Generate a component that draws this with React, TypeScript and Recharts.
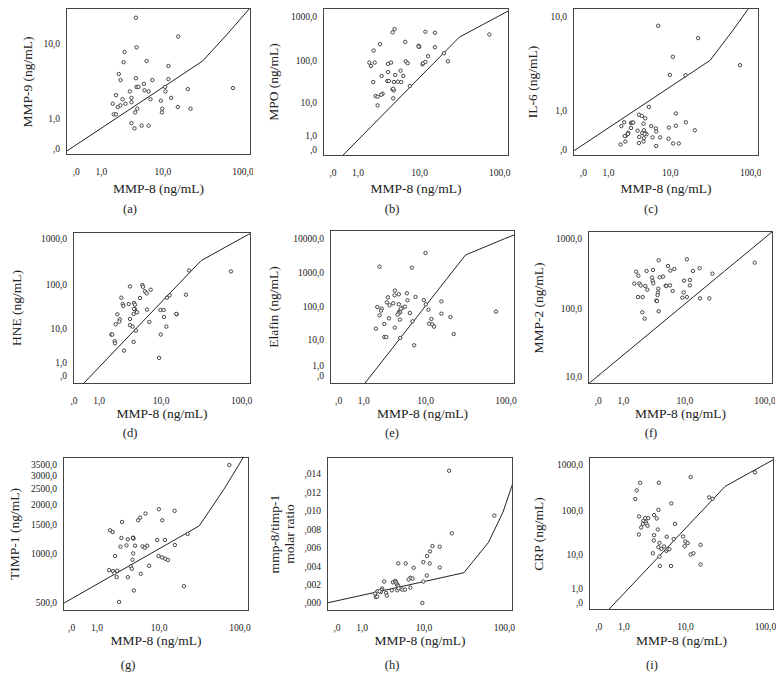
import React from 'react';
import { ScatterChart, Scatter, XAxis, YAxis } from 'recharts';

// MMP-8 (x) vs marker (y), values in ng/mL (ratio unitless)
const mmp9 = [
  [4.2, 18.8], [15.8, 11.9], [2.8, 8.1], [4.3, 9.1], [2.7, 6.2], [6.0, 6.4], [11.8, 5.6], [2.24, 4.5],
  [2.4, 3.8], [4.2, 4.0], [7.2, 3.8], [5.5, 3.4], [11.8, 3.9], [4.4, 3.1], [4.3, 3.1], [4.6, 3.1],
  [3.4, 2.7], [5.6, 2.8], [6.4, 2.7], [10.7, 3.1], [10.8, 2.7], [20.9, 2.9], [75.5, 3.0], [2.0, 2.4],
  [2.6, 2.1], [3.6, 2.2], [1.74, 1.8], [2.15, 1.6], [2.4, 1.7], [2.9, 1.8], [3.6, 1.9], [6.8, 2.1],
  [9.4, 2.0], [12.8, 2.2], [15.6, 1.6], [22.6, 1.5], [4.4, 1.5], [4.1, 1.3], [9.8, 1.5], [9.7, 1.3],
  [1.82, 1.2], [2.0, 1.2], [3.6, 0.8], [4.0, 0.6], [5.1, 0.7], [6.4, 0.7],
];
const mpo = [
  [4.5, 512], [4.2, 430], [11.9, 446], [15.8, 423], [2.67, 233], [6.4, 263], [9.7, 214], [9.9, 203],
  [9.7, 206], [15.8, 199], [2.08, 167], [12.9, 124], [20.6, 145], [1.73, 89], [1.86, 74.5], [2.17, 89],
  [3.6, 83], [4.0, 89], [6.5, 95], [6.9, 86], [10.9, 81], [11.1, 86], [11.9, 92], [23.1, 95],
  [74.8, 387], [3.6, 54], [2.85, 44], [4.6, 46], [5.5, 58], [6.0, 44], [2.05, 31.7], [3.5, 33.5],
  [3.7, 33.5], [4.4, 31.7], [5.0, 32.3], [5.6, 31.7], [7.4, 25.6], [4.2, 21.3], [4.4, 20.2], [4.3, 22.1],
  [2.95, 16.8], [2.8, 15.9], [2.26, 14.8], [2.44, 14.2], [4.3, 13.0], [2.44, 8.7],
];
const il6 = [
  [6.87, 8.35], [22.7, 6.48], [10.8, 4.33], [9.86, 2.84], [15.7, 2.82], [74.2, 3.58], [5.09, 1.15],
  [3.63, 0.87], [4.02, 0.83], [11.8, 0.91], [4.51, 0.75], [2.09, 0.63], [1.85, 0.52], [2.72, 0.61],
  [2.85, 0.62], [2.96, 0.62], [4.26, 0.59], [15.9, 0.63], [11.8, 0.53], [9.57, 0.48], [5.5, 0.52],
  [6.39, 0.46], [2.72, 0.47], [3.46, 0.4], [4.31, 0.41], [6.46, 0.38], [20.6, 0.41], [2.45, 0.35],
  [2.24, 0.28], [2.42, 0.32], [2.12, 0.27], [4.07, 0.34], [4.56, 0.33], [4.71, 0.31], [4.41, 0.32],
  [3.67, 0.25], [5.74, 0.24], [7.32, 0.24], [4.31, 0.22], [9.47, 0.21], [2.18, 0.15], [4.26, 0.15],
  [1.79, 0.09], [3.63, 0.12], [6.46, 0.06], [10.9, 0.11], [12.9, 0.11],
];
const hne = [
  [22.7, 205], [74.2, 195], [3.67, 91], [5.56, 97.4], [5.68, 89.4], [7.25, 76.8], [6.06, 70.6],
  [6.39, 63.7], [2.68, 51], [20.8, 59.5], [5.15, 50.2], [2.82, 36.8], [2.89, 33.3], [3.5, 36.8],
  [4.21, 38.8], [4.36, 35.6], [11.9, 51], [12.9, 57.5], [4.36, 28], [4.21, 28.5], [4.66, 23.9],
  [2.3, 21.5], [2.52, 16.5], [2.48, 14.6], [6.46, 27.5], [3.67, 16.8], [4.16, 21.9], [9.8, 27],
  [10.8, 27], [10.9, 18.7], [2.15, 12.6], [3.67, 12.0], [4.02, 11.1], [15.9, 21.5], [15.7, 21.9],
  [6.95, 14.3], [11.7, 11.1], [4.51, 8.9], [1.79, 7.1], [1.87, 7.1], [9.9, 7.1], [2.06, 4.8],
  [2.09, 4.2], [4.16, 4.6], [2.96, 2.6], [9.4, 1.5],
];
const elafin = [
  [9.96, 3802], [2.09, 1517], [6.52, 1419], [3.71, 302], [5.56, 252], [2.89, 192], [3.67, 220],
  [7.32, 197], [4.26, 236], [3.5, 128], [5.68, 157], [9.47, 160], [16.0, 146], [2.78, 137],
  [10.07, 120], [1.9, 100], [2.27, 89.2], [2.21, 77.9], [3.07, 112], [4.26, 120], [4.87, 95.4],
  [5.21, 102], [4.56, 89.2], [4.31, 72.8], [4.46, 69.5], [4.21, 64.9], [4.07, 59.3], [6.12, 66.4],
  [10.9, 83.3], [16.0, 63.4], [2.09, 56.6], [3.0, 46.1], [4.41, 42.1], [6.66, 37.5], [11.9, 44.1],
  [20.8, 50.5], [1.79, 22.5], [2.52, 31.2], [3.71, 24.2], [11.1, 32], [12.2, 30.5], [12.9, 25.9],
  [2.52, 12.4], [2.72, 12.4], [4.46, 11.6], [22.9, 15.4], [75.6, 72.8], [7.02, 6.7],
];
const mmp2 = [
  [4.31, 486], [10.6, 502], [74.8, 450], [5.89, 404], [1.86, 335], [2.81, 343], [3.54, 354],
  [6.35, 347], [7.2, 366], [12.7, 343], [15.5, 374], [2.03, 294], [3.42, 276], [5.0, 285],
  [4.46, 279], [1.71, 227], [2.11, 227], [2.23, 214], [3.5, 247], [3.58, 229], [5.46, 212],
  [5.58, 210], [6.28, 214], [11.6, 214], [22.5, 314], [2.67, 210], [2.88, 186], [4.26, 192],
  [6.83, 178], [9.72, 250], [4.21, 169], [4.16, 156], [11.6, 255], [9.62, 170], [2.0, 146],
  [2.41, 146], [9.23, 143], [10.6, 146], [15.7, 140], [20.6, 140], [3.98, 130], [4.07, 128],
  [2.38, 88.5], [4.31, 91.5], [2.61, 71.8],
];
const timp1 = [
  [74.3, 3486], [9.91, 1872], [15.8, 1829], [6.57, 1761], [5.53, 1664], [5.18, 1602], [10.97, 1602],
  [2.98, 1565], [1.86, 1391], [2.08, 1359], [4.4, 1254], [4.44, 1237], [4.35, 1249], [2.91, 1249],
  [3.66, 1226], [9.42, 1214], [11.9, 1214], [23.0, 1321], [2.81, 1105], [3.49, 1126], [4.69, 1120],
  [5.97, 1110], [6.43, 1089], [6.92, 1120], [15.9, 1131], [4.4, 1005], [2.29, 968], [4.3, 919],
  [9.81, 968], [10.9, 950], [12.0, 932], [13.0, 915], [4.06, 836], [4.2, 809], [7.36, 844],
  [1.79, 794], [2.11, 783], [2.23, 761], [2.48, 787], [2.44, 719], [3.66, 719], [5.65, 754],
  [20.7, 633], [4.5, 596], [2.67, 507],
];
const ratio = [
  [21.0, 0.01436], [75.5, 0.00949], [22.7, 0.00756], [12.9, 0.00618], [16.0, 0.00611], [11.0, 0.00509],
  [12.0, 0.0056], [9.81, 0.00444], [11.9, 0.00429], [16.0, 0.00385], [7.28, 0.00382], [4.41, 0.00429],
  [5.64, 0.00429], [10.9, 0.00298], [9.81, 0.00233], [6.55, 0.00273], [6.21, 0.00255], [7.05, 0.00265],
  [6.55, 0.00167], [3.67, 0.00225], [3.98, 0.0024], [4.07, 0.00229], [4.16, 0.00211], [4.31, 0.00196],
  [4.41, 0.00182], [2.67, 0.00233], [5.05, 0.00145], [5.52, 0.00145], [3.54, 0.00138], [2.48, 0.00156],
  [2.41, 0.00142], [2.35, 0.0012], [2.05, 0.00127], [2.23, 0.00127], [1.86, 0.00102], [1.92, 0.00065],
  [2.03, 0.00069], [2.88, 0.00109], [2.95, 0.0008], [4.26, 0.00138], [4.46, 0.0016], [9.52, 0.0],
];
const crp = [
  [11.7, 545], [2.14, 409], [4.26, 409], [1.86, 278], [1.74, 179], [20.2, 195], [22.3, 182],
  [6.45, 144], [4.21, 104], [2.05, 74.2], [2.61, 68], [3.62, 79.4], [3.97, 66.9], [2.92, 68],
  [2.44, 59.4], [2.67, 55.5], [2.74, 50.9], [2.23, 42.2], [2.38, 50.9], [2.85, 46], [7.24, 50.9],
  [4.11, 38], [2.03, 29.3], [3.62, 28.3], [5.55, 26], [6.94, 23], [9.28, 26.4], [9.96, 20.3],
  [10.7, 18.6], [9.76, 15.8], [15.7, 17], [3.58, 21.4], [4.36, 18.9], [5.08, 15.6], [4.21, 15],
  [4.65, 13.7], [5.49, 12.3], [5.73, 13.5], [6.05, 13.5], [3.46, 10.8], [12.7, 10.8], [11.7, 10.1],
  [4.36, 9.0], [4.41, 5.2], [6.38, 5.2], [15.7, 5.7], [74.5, 690],
];

// reference lines, as drawn
const mmp9Fit = [[-0.33, -0.06], [32, 6.4], [64, 12.6], [96, 18.8], [128, 25]];
const mpoFit = [[-0.32, -2.95], [32, 336], [64, 665], [96, 995], [128, 1325]];
const il6Fit = [[-0.33, -0.04], [32, 4.0], [64, 8.0], [96, 12.0], [128, 16.0]];
const hneFit = [[-0.03, -1.54], [32, 336], [64, 670], [96, 1005], [128, 1340]];
const elafinFit = [[-0.27, -32], [32, 3300], [64, 6600], [96, 9900], [128, 13000]];
const mmp2Fit = [[-0.33, 7.6], [32, 342], [64, 660], [128, 1290]];
const timp1Fit = [[-0.27, 495], [32, 1480], [64, 2480], [96, 3470], [128, 4470]];
const ratioFit = [[-0.32, 0], [32, 0.00328], [64, 0.00656], [96, 0.00984], [128, 0.01312]];
const crpFit = [[-0.31, -3.1], [32, 340], [64, 675], [96, 1010], [128, 1345]];

// ticks
const xTicks = [0, 1, 10, 100];
const xTickLabels = [',0', '1,0', '10,0', '100,0'];
const logTicks = [0, 1, 10, 100, 1000, 10000];
const logLabels = [',0', '1,0', '10,0', '100,0', '1000,0', '10000,0'];
const mmp2Ticks = [10, 100, 1000];
const mmp2Labels = ['10,0', '100,0', '1000,0'];
const timpTicks = [500, 1000, 1500, 2000, 2500, 3000, 3500];
const timpLabels = ['500,0', '1000,0', '1500,0', '2000,0', '2500,0', '3000,0', '3500,0'];
const ratioTicks = [0, 0.002, 0.004, 0.006, 0.008, 0.01, 0.012, 0.014];
const ratioLabels = [',000', ',002', ',004', ',006', ',008', ',010', ',012', ',014'];

const FONT = '"Liberation Serif", "DejaVu Serif", serif';
const INK = '#222';

// SPSS-style log(x+1) axis, mirrored for negatives
const slog = (v: number) => Math.sign(v) * Math.log10(Math.abs(v) + 1);
const lin = (v: number) => v;

const panels = [
  { key: 'a', pts: mmp9, fit: mmp9Fit, title: ['MMP-9 (ng/mL)'], yt: logTicks.slice(0, 3), yl: logLabels, xDom: [-0.33, 124.9], yDom: [-0.146, 23.7],
    box: { l: 66, t: 8, w: 185, h: 147 }, titleX: [28], capX: 130, capY: 209, xTitleY: 189 },
  { key: 'b', pts: mpo, fit: mpoFit, title: ['MPO (ng/mL)'], yt: logTicks.slice(0, 5), yl: logLabels, xDom: [-0.318, 129.6], yDom: [-0.429, 1534],
    box: { l: 323, t: 8, w: 186, h: 148 }, titleX: [274], capX: 392, capY: 209, xTitleY: 189 },
  { key: 'c', pts: il6, fit: il6Fit, title: ['IL-6 (ng/mL)'], yt: logTicks.slice(0, 3), yl: logLabels, xDom: [-0.33, 126], yDom: [-0.13, 11.9],
    box: { l: 573, t: 8, w: 186, h: 148 }, titleX: [533], capX: 651, capY: 209, xTitleY: 189 },
  { key: 'd', pts: hne, fit: hneFit, title: ['HNE (ng/mL)'], yt: logTicks.slice(0, 5), yl: logLabels, xDom: [-0.028, 129.6], yDom: [-0.496, 1431],
    box: { l: 73, t: 232, w: 178, h: 152 }, titleX: [17], capX: 130, capY: 433, xTitleY: 414 },
  { key: 'e', pts: elafin, fit: elafinFit, title: ['Elafin (ng/mL)'], yt: logTicks, yl: logLabels, xDom: [-0.27, 128.4], yDom: [-0.75, 17782],
    box: { l: 330, t: 230, w: 185, h: 154 }, titleX: [274], capX: 392, capY: 433, xTitleY: 414 },
  { key: 'f', pts: mmp2, fit: mmp2Fit, title: ['MMP-2 (ng/mL)'], yt: mmp2Ticks, yl: mmp2Labels, xDom: [-0.33, 124.9], yDom: [7.65, 1264],
    box: { l: 588, t: 231, w: 185, h: 153 }, titleX: [539], capX: 651, capY: 433, xTitleY: 414 },
  { key: 'g', pts: timp1, fit: timp1Fit, title: ['TIMP-1 (ng/mL)'], yt: timpTicks, yl: timpLabels, xDom: [-0.268, 128.1], yDom: [446.4, 3903],
    box: { l: 63, t: 457, w: 186, h: 154 }, titleX: [15], capX: 128, capY: 665, xTitleY: 641 },
  { key: 'h', pts: ratio, fit: ratioFit, title: ['mmp-8/timp-1', 'molar ratio'], yt: ratioTicks, yl: ratioLabels, xDom: [-0.318, 127.2], yDom: [-0.00087, 0.01585], linear: true,
    box: { l: 327, t: 457, w: 186, h: 154 }, titleX: [275, 290], capX: 392, capY: 665, xTitleY: 641 },
  { key: 'i', pts: crp, fit: crpFit, title: ['CRP (ng/mL)'], yt: logTicks.slice(0, 5), yl: logLabels, xDom: [-0.312, 126.6], yDom: [-0.472, 1495],
    box: { l: 589, t: 457, w: 185, h: 153 }, titleX: [539], capX: 652, capY: 665, xTitleY: 641 },
];

const Ring = (p: any) => (
  <circle cx={p.cx} cy={p.cy} r={1.7} fill="#fff" stroke="#333" strokeWidth={0.9} />
);
const NoDot = () => <g />;

const Y_W = 60;
const PAD = 2;
const X_H = 30;

function Panel({ cfg }: { cfg: any }) {
  const { box } = cfg;
  const ty = cfg.linear ? lin : slog;
  const pts = cfg.pts.map(([x, y]: number[]) => ({ x: slog(x), y: ty(y) }));
  const fit = cfg.fit.map(([x, y]: number[]) => ({ x: slog(x), y: ty(y) }));
  const xt = xTicks.map(slog);
  const yt = cfg.yt.map(ty);
  const fmt = (vals: number[], labels: string[]) => (v: number) => {
    const i = vals.findIndex((t) => Math.abs(t - v) < 1e-9);
    return i >= 0 ? labels[i] : '';
  };
  const tickStyle = { fontSize: 9.5, fill: INK, fontFamily: FONT };
  const textBase: React.CSSProperties = { position: 'absolute', fontFamily: FONT, color: INK, whiteSpace: 'nowrap', lineHeight: 1 };
  return (
    <>
      <div style={{ position: 'absolute', left: box.l - Y_W, top: box.t - PAD }}>
        <ScatterChart width={box.w + Y_W + PAD} height={box.h + PAD + X_H} margin={{ top: PAD, right: PAD, left: 0, bottom: 0 }}>
          <XAxis type="number" dataKey="x" domain={[slog(cfg.xDom[0]), slog(cfg.xDom[1])]} allowDataOverflow
            ticks={xt} interval={0} tickFormatter={fmt(xt, xTickLabels)} axisLine={false} tickLine={false}
            tickSize={6} tickMargin={7} height={X_H} tick={tickStyle} />
          <YAxis type="number" dataKey="y" domain={[ty(cfg.yDom[0]), ty(cfg.yDom[1])]} allowDataOverflow
            ticks={yt} interval={0} tickFormatter={fmt(yt, cfg.yl)} axisLine={false} tickLine={false}
            tickSize={3} tickMargin={3} width={Y_W} tick={tickStyle} />
          <Scatter data={fit} line={{ stroke: '#222', strokeWidth: 1 }} shape={NoDot} isAnimationActive={false} />
          <Scatter data={pts} shape={Ring} isAnimationActive={false} />
        </ScatterChart>
      </div>
      <div style={{ position: 'absolute', left: box.l, top: box.t, width: box.w, height: box.h, boxSizing: 'border-box', border: '1px solid #444', pointerEvents: 'none' }} />
      {cfg.title.map((t: string, i: number) => (
        <div key={t} style={{ ...textBase, fontSize: 13.5, left: cfg.titleX[i], top: box.t + box.h / 2, transform: 'translate(-50%, -50%) rotate(-90deg)' }}>{t}</div>
      ))}
      <div style={{ ...textBase, fontSize: 13.5, left: box.l + box.w / 2, top: cfg.xTitleY, transform: 'translate(-50%, -50%)' }}>MMP-8 (ng/mL)</div>
      <div style={{ ...textBase, fontSize: 12.5, left: cfg.capX, top: cfg.capY, transform: 'translate(-50%, -50%)' }}>({cfg.key})</div>
    </>
  );
}

export default function App() {
  return (
    <div style={{ position: 'absolute', left: 0, top: 0, width: 783, height: 693, background: '#fff', overflow: 'hidden' }}>
      {panels.map((p) => <Panel key={p.key} cfg={p} />)}
    </div>
  );
}
